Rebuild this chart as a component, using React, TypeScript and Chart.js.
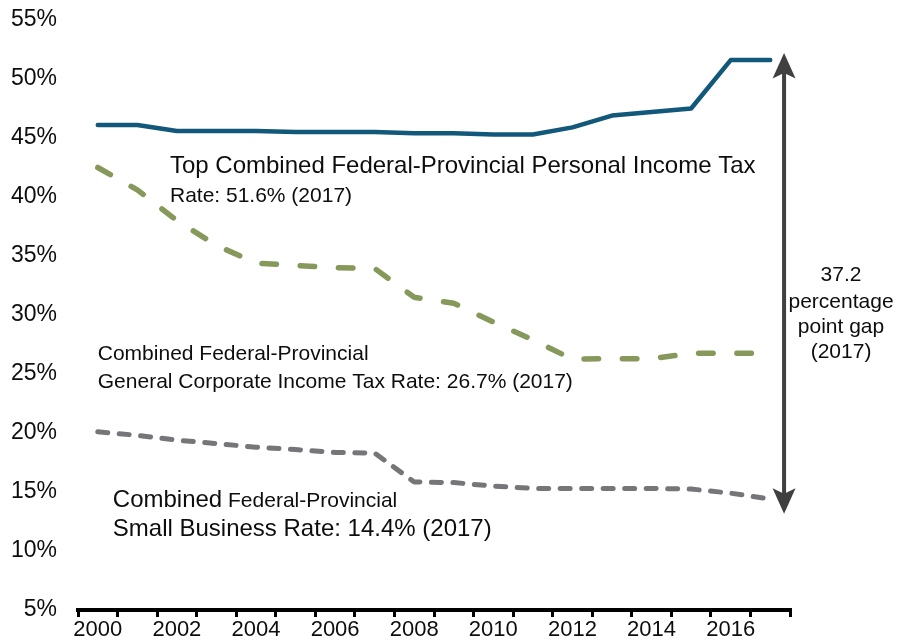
import React, { useEffect, useRef } from 'react';
import { Chart, registerables } from 'chart.js';

Chart.register(...registerables);

const YEARS = ['2000', '2001', '2002', '2003', '2004', '2005', '2006', '2007', '2008', '2009', '2010', '2011', '2012', '2013', '2014', '2015', '2016', '2017'];
const PERSONAL = [46.1, 46.1, 45.6, 45.6, 45.6, 45.5, 45.5, 45.5, 45.4, 45.4, 45.3, 45.3, 45.9, 46.9, 47.2, 47.5, 51.6, 51.6];
const CORPORATE = [42.5, 40.6, 38.0, 35.9, 34.4, 34.2, 34.0, 33.95, 31.5, 31.0, 29.4, 27.9, 26.25, 26.3, 26.3, 26.75, 26.75, 26.75];
const SMALL = [20.1, 19.8, 19.4, 19.1, 18.8, 18.6, 18.35, 18.3, 15.85, 15.8, 15.5, 15.3, 15.3, 15.3, 15.3, 15.25, 14.9, 14.4];
const Y_MIN = 5;
const Y_MAX = 55;
const Y_STEP = 5;

const FONT = '"Liberation Sans", Arial, Helvetica, sans-serif';
const TEXT_COLOR = '#0d0d0d';

type Part = { text: string; size: number };
type TextLine = { x: number; y: number; align: 'left' | 'center'; parts: Part[] };

// Annotation text lines; x in category index units, y in percent units (baseline)
const TEXT_LINES: TextLine[] = [
  { x: 1.825, y: 42.0, align: 'left', parts: [{ text: 'Top Combined Federal-Provincial Personal Income Tax', size: 24 }] },
  { x: 1.825, y: 39.6, align: 'left', parts: [{ text: 'Rate: 51.6% (2017)', size: 21 }] },
  { x: 0.0, y: 26.19, align: 'left', parts: [{ text: 'Combined Federal-Provincial', size: 21 }] },
  { x: 0.0, y: 23.85, align: 'left', parts: [{ text: 'General Corporate Income Tax Rate: 26.7% (2017)', size: 21 }] },
  { x: 0.38, y: 13.7, align: 'left', parts: [{ text: 'Combined', size: 24 }, { text: ' Federal-Provincial', size: 21 }] },
  { x: 0.38, y: 11.3, align: 'left', parts: [{ text: 'Small Business Rate: 14.4% (2017)', size: 24 }] },
  { x: 18.79, y: 32.85, align: 'center', parts: [{ text: '37.2', size: 21 }] },
  { x: 18.79, y: 30.6, align: 'center', parts: [{ text: 'percentage', size: 21 }] },
  { x: 18.79, y: 28.45, align: 'center', parts: [{ text: 'point gap', size: 21 }] },
  { x: 18.79, y: 26.35, align: 'center', parts: [{ text: '(2017)', size: 21 }] },
];

const GAP_ARROW_X = 17.35;
const GAP_ARROW_TOP_EXTRA = 0.6;
const GAP_ARROW_BOTTOM_EXTRA = 1.25;

const annotationPlugin = {
  id: 'annotations',
  afterDraw(chart: any) {
    const ctx = chart.ctx as CanvasRenderingContext2D;
    const xs = chart.scales.x;
    const ys = chart.scales.y;
    ctx.save();
    // arrow
    const last = YEARS.length - 1;
    const ax = xs.getPixelForValue(GAP_ARROW_X);
    const yTop = ys.getPixelForValue(PERSONAL[last] + GAP_ARROW_TOP_EXTRA);
    const yBot = ys.getPixelForValue(SMALL[last] - GAP_ARROW_BOTTOM_EXTRA);
    ctx.strokeStyle = '#404040';
    ctx.fillStyle = '#404040';
    ctx.lineWidth = 4;
    ctx.beginPath();
    ctx.moveTo(ax, yTop + 18);
    ctx.lineTo(ax, yBot - 18);
    ctx.stroke();
    const head = (tip: number, dir: number) => {
      ctx.beginPath();
      ctx.moveTo(ax, tip);
      ctx.lineTo(ax - 11.5, tip + dir * 25.5);
      ctx.lineTo(ax, tip + dir * 20);
      ctx.lineTo(ax + 11.5, tip + dir * 25.5);
      ctx.closePath();
      ctx.fill();
    };
    head(yTop, 1);
    head(yBot, -1);

    // texts
    ctx.fillStyle = TEXT_COLOR;
    ctx.textBaseline = 'alphabetic';
    ctx.textAlign = 'left';
    for (const line of TEXT_LINES) {
      const px = xs.getPixelForValue(line.x);
      const py = ys.getPixelForValue(line.y);
      let total = 0;
      const widths = line.parts.map((p) => {
        ctx.font = `${p.size}px ${FONT}`;
        const w = ctx.measureText(p.text).width;
        total += w;
        return w;
      });
      let cx = line.align === 'center' ? px - total / 2 : px;
      line.parts.forEach((p, i) => {
        ctx.font = `${p.size}px ${FONT}`;
        ctx.fillText(p.text, cx, py);
        cx += widths[i];
      });
    }
    ctx.restore();
  },
};

export default function App() {
  const ref = useRef<HTMLCanvasElement | null>(null);
  useEffect(() => {
    if (!ref.current) return;
    const chart = new Chart(ref.current, {
      type: 'line',
      data: {
        labels: YEARS,
        datasets: [
          {
            label: 'Personal',
            data: PERSONAL,
            borderColor: '#12587A',
            borderWidth: 4.5,
            pointRadius: 0,
            tension: 0,
            borderJoinStyle: 'round',
            borderCapStyle: 'round',
          },
          {
            label: 'Corporate',
            data: CORPORATE,
            borderColor: '#86995B',
            borderWidth: 5.5,
            borderDash: [14.5, 23.8],
            pointRadius: 0,
            tension: 0,
            borderJoinStyle: 'round',
            borderCapStyle: 'round',
          },
          {
            label: 'Small',
            data: SMALL,
            borderColor: '#76767A',
            borderWidth: 5,
            borderDash: [10, 11.5],
            pointRadius: 0,
            tension: 0,
            borderJoinStyle: 'round',
            borderCapStyle: 'round',
          },
        ],
      },
      options: {
        responsive: false,
        animation: false,
        devicePixelRatio: 1,
        layout: { padding: { left: 10, right: 107, top: 20, bottom: 0 } },
        plugins: { legend: { display: false }, tooltip: { enabled: false }, title: { display: false } },
        scales: {
          x: {
            type: 'category',
            offset: true,
            grid: {
              display: true,
              drawOnChartArea: false,
              drawTicks: true,
              tickLength: 7,
              tickWidth: 3,
              tickColor: '#000',
              offset: true,
              color: '#000',
              lineWidth: 3,
            },
            border: { display: true, color: '#000', width: 4 },
            ticks: {
              autoSkip: false,
              maxRotation: 0,
              minRotation: 0,
              padding: 0,
              color: TEXT_COLOR,
              font: { family: FONT, size: 22 },
              callback: (_v: any, i: number) => (i % 2 === 0 ? YEARS[i] : ''),
            },
            afterFit: (s: any) => {
              s.height = 30;
              s.paddingLeft = 0;
              s.paddingRight = 0;
            },
          },
          y: {
            min: Y_MIN,
            max: Y_MAX,
            grid: { display: false, drawTicks: false },
            border: { display: false },
            ticks: {
              stepSize: Y_STEP,
              padding: 21,
              color: TEXT_COLOR,
              font: { family: FONT, size: 23 },
              callback: (v: any) => `${v}%`,
            },
            afterFit: (s: any) => {
              s.width = 68;
              s.paddingTop = 0;
              s.paddingBottom = 0;
            },
          },
        },
      },
      plugins: [annotationPlugin],
    } as any);
    return () => chart.destroy();
  }, []);
  return (
    <div style={{ position: 'absolute', left: 0, top: 0, width: 897, height: 640, background: '#fff' }}>
      <canvas ref={ref} width={897} height={640} style={{ width: 897, height: 640 }} />
    </div>
  );
}
